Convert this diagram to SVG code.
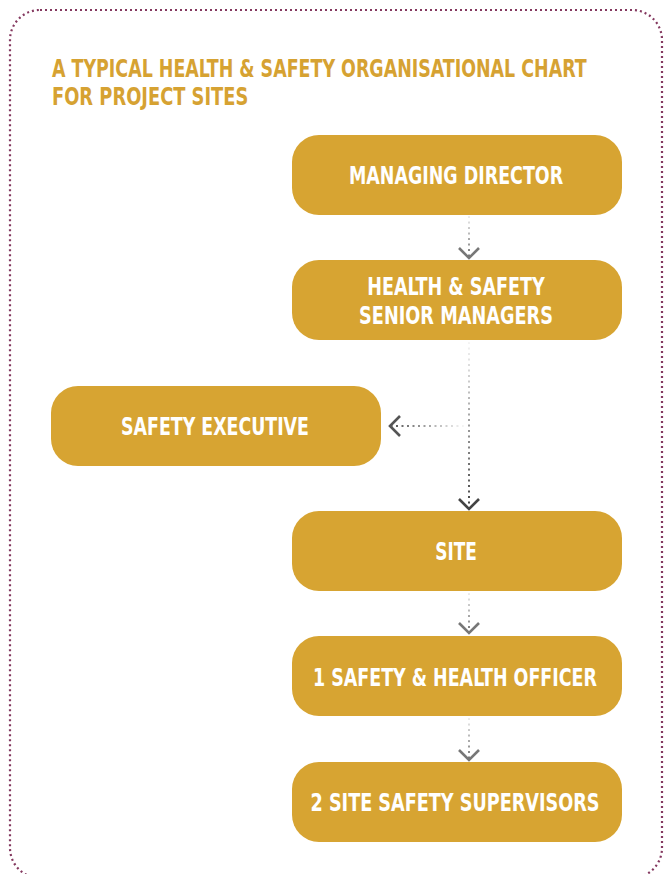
<svg xmlns="http://www.w3.org/2000/svg" width="668" height="874" viewBox="0 0 668 874">
  <style>
    .frame { fill: none; stroke: #84385f; stroke-width: 2.2; stroke-dasharray: 2 3; }
    .title { fill: #d6a232; font-family: "Liberation Sans Narrow", "DejaVu Sans Condensed", "Liberation Sans", sans-serif; font-weight: bold; font-size: 24px; }
    .box { fill: #d7a432; }
    .label { fill: #ffffff; font-family: "Liberation Sans Narrow", "DejaVu Sans Condensed", "Liberation Sans", sans-serif; font-weight: bold; font-size: 25px; text-anchor: middle; }
    .dots { fill: none; stroke-width: 2; stroke-dasharray: 2 3.5; }
    .head { fill: none; stroke-width: 2.6; stroke-linejoin: miter; }
  </style>
  <defs>
    <linearGradient id="g1" gradientUnits="userSpaceOnUse" x1="0" y1="215" x2="0" y2="256">
      <stop offset="0" stop-color="#777" stop-opacity="0.1"/>
      <stop offset="1" stop-color="#777" stop-opacity="1"/>
    </linearGradient>
    <linearGradient id="g2" gradientUnits="userSpaceOnUse" x1="0" y1="342" x2="0" y2="506">
      <stop offset="0" stop-color="#444" stop-opacity="0.05"/>
      <stop offset="1" stop-color="#444" stop-opacity="1"/>
    </linearGradient>
    <linearGradient id="g3" gradientUnits="userSpaceOnUse" x1="464" y1="0" x2="392" y2="0">
      <stop offset="0" stop-color="#555" stop-opacity="0.05"/>
      <stop offset="1" stop-color="#555" stop-opacity="1"/>
    </linearGradient>
    <linearGradient id="g4" gradientUnits="userSpaceOnUse" x1="0" y1="592" x2="0" y2="631">
      <stop offset="0" stop-color="#777" stop-opacity="0.1"/>
      <stop offset="1" stop-color="#777" stop-opacity="1"/>
    </linearGradient>
    <linearGradient id="g5" gradientUnits="userSpaceOnUse" x1="0" y1="717" x2="0" y2="758">
      <stop offset="0" stop-color="#777" stop-opacity="0.1"/>
      <stop offset="1" stop-color="#777" stop-opacity="1"/>
    </linearGradient>
  </defs>

  <!-- dotted outer frame -->
  <rect class="frame" x="10" y="10" width="652" height="868" rx="30" ry="30"/>

  <!-- heading (horizontally condensed) -->
  <g id="heading">
    <text class="title" transform="translate(52,77) scale(0.85,1)" textLength="629" lengthAdjust="spacingAndGlyphs">A TYPICAL HEALTH &amp; SAFETY ORGANISATIONAL CHART</text>
    <text class="title" transform="translate(52,105) scale(0.85,1)" textLength="231" lengthAdjust="spacingAndGlyphs">FOR PROJECT SITES</text>
  </g>

  <!-- connectors -->
  <g id="connectors">
    <line class="dots" x1="469" y1="216" x2="469" y2="256" stroke="url(#g1)"/>
    <path class="head" d="M459,248 L469,258 L479,248" stroke="#777"/>

    <line class="dots" x1="469" y1="342" x2="469" y2="507" stroke="url(#g2)"/>
    <path class="head" d="M459,499 L469,509 L479,499" stroke="#444"/>

    <line class="dots" x1="464" y1="426" x2="392" y2="426" stroke="url(#g3)"/>
    <path class="head" d="M400,416 L390,426 L400,436" stroke="#555"/>

    <line class="dots" x1="469" y1="593" x2="469" y2="631" stroke="url(#g4)"/>
    <path class="head" d="M459,623 L469,633 L479,623" stroke="#777"/>

    <line class="dots" x1="469" y1="718" x2="469" y2="758" stroke="url(#g5)"/>
    <path class="head" d="M459,750 L469,760 L479,750" stroke="#777"/>
  </g>

  <g id="managing-director">
    <rect class="box" x="292" y="135" width="330" height="80" rx="27"/>
    <text class="label" transform="translate(456,184) scale(0.85,1)" textLength="252" lengthAdjust="spacingAndGlyphs">MANAGING DIRECTOR</text>
  </g>

  <g id="hs-senior-managers">
    <rect class="box" x="292" y="260" width="330" height="80" rx="27"/>
    <text class="label" transform="translate(456,295) scale(0.85,1)" textLength="209" lengthAdjust="spacingAndGlyphs">HEALTH &amp; SAFETY</text>
    <text class="label" transform="translate(456,324) scale(0.85,1)" textLength="228" lengthAdjust="spacingAndGlyphs">SENIOR MANAGERS</text>
  </g>

  <g id="safety-executive">
    <rect class="box" x="51" y="386" width="330" height="80" rx="27"/>
    <text class="label" transform="translate(215,435) scale(0.85,1)" textLength="221" lengthAdjust="spacingAndGlyphs">SAFETY EXECUTIVE</text>
  </g>

  <g id="site">
    <rect class="box" x="292" y="511" width="330" height="80" rx="27"/>
    <text class="label" transform="translate(456,560) scale(0.85,1)" textLength="49" lengthAdjust="spacingAndGlyphs">SITE</text>
  </g>

  <g id="safety-health-officer">
    <rect class="box" x="292" y="636" width="330" height="80" rx="27"/>
    <text class="label" transform="translate(455,686) scale(0.85,1)" textLength="334" lengthAdjust="spacingAndGlyphs">1 SAFETY &amp; HEALTH OFFICER</text>
  </g>

  <g id="site-safety-supervisors">
    <rect class="box" x="292" y="762" width="330" height="80" rx="27"/>
    <text class="label" transform="translate(455,811) scale(0.85,1)" textLength="340" lengthAdjust="spacingAndGlyphs">2 SITE SAFETY SUPERVISORS</text>
  </g>
</svg>
